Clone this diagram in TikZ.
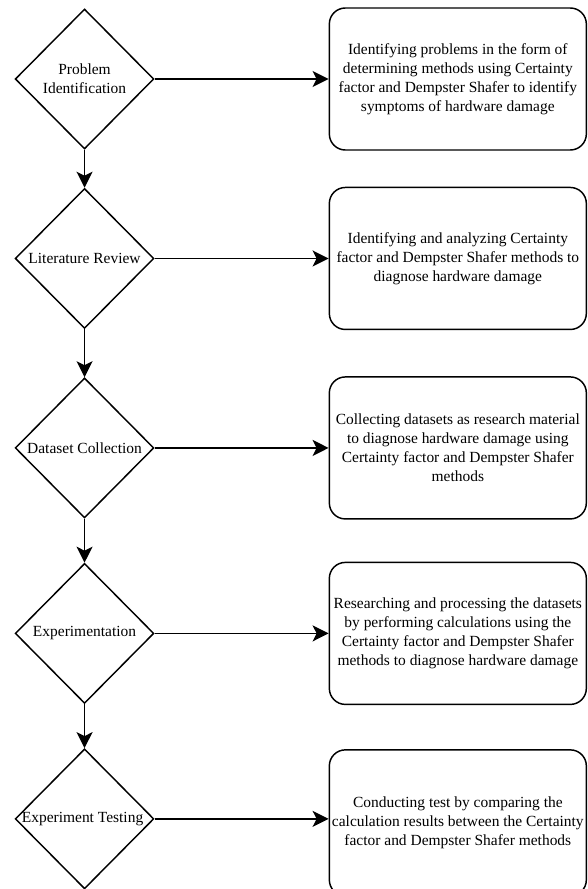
\documentclass[tikz,border=0pt]{standalone}
\usepackage{fontspec}
\setmainfont{Liberation Serif}
\usetikzlibrary{arrows.meta,shapes.geometric,positioning}
\tikzstyle{arrow} = [line width=1.1pt,->,>={Stealth[length=12pt,width=12pt,inset=3pt]},color=black]
\tikzstyle{stage} = [diamond, draw=black, line width=1.1pt, minimum width=104pt, minimum height=105pt, inner sep=0pt]
\tikzstyle{stagetext} = [align=center, inner sep=0pt]
\tikzstyle{outcome} = [rectangle, rounded corners=12pt, minimum width=192.75pt, minimum height=106.5pt, text centered, align=center, draw=black, line width=1.1pt, inner sep=1pt]

\begin{document}
\begin{tikzpicture}[
    every node/.style={font=\fontsize{11.6}{14.2}\selectfont}
]
\useasboundingbox (0,0) rectangle (440.25pt,-666.75pt);

% Stages (left column)
\node[stage] (ident) at (63.4pt,-59.25pt) {};
\node[stage, below=28.5pt of ident] (review) {};
\node[stage, below=36pt of review] (dataset) {};
\node[stage, below=33pt of dataset] (experiment) {};
\node[stage, below=33pt of experiment] (testing) {};

% Stage labels
\node[stagetext] (identtxt) at (ident) {Problem\\Identification};
\node[stagetext] (reviewtxt) at (review) {Literature Review};
\node[stagetext] (datasettxt) at (dataset) {Dataset Collection};
\node[stagetext] (experimenttxt) at (experiment) {Experimentation};
\node[stagetext] (testingtxt) at ([xshift=-1.5pt]testing) {Experiment Testing};

% Outcomes (right column)
\node[outcome, right=130.5pt of ident] (identout) {Identifying problems in the form of\\determining methods using Certainty\\factor and Dempster Shafer to identify\\symptoms of hardware damage};
\node[outcome, right=130.5pt of review] (reviewout) {Identifying and analyzing Certainty\\factor and Dempster Shafer methods to\\diagnose hardware damage};
\node[outcome, right=130.5pt of dataset] (datasetout) {Collecting datasets as research material\\to diagnose hardware damage using\\Certainty factor and Dempster Shafer\\methods};
\node[outcome, right=130.5pt of experiment] (experimentout) {Researching and processing the datasets\\by performing calculations using the\\Certainty factor and Dempster Shafer\\methods to diagnose hardware damage};
\node[outcome, right=130.5pt of testing, minimum height=109.5pt, yshift=-3pt] (testingout) {Conducting test by comparing the\\calculation results between the Certainty\\factor and Dempster Shafer methods};

% Connections
\draw[arrow] (ident) -- (review);
\draw[arrow] (review) -- (dataset);
\draw[arrow] (dataset) -- (experiment);
\draw[arrow] (experiment) -- (testing);
\draw[arrow] (ident.east) -- (ident.east -| identout.west);
\draw[arrow] (review.east) -- (review.east -| reviewout.west);
\draw[arrow] (dataset.east) -- (dataset.east -| datasetout.west);
\draw[arrow] (experiment.east) -- (experiment.east -| experimentout.west);
\draw[arrow] (testing.east) -- (testing.east -| testingout.west);

\end{tikzpicture}
\end{document}
